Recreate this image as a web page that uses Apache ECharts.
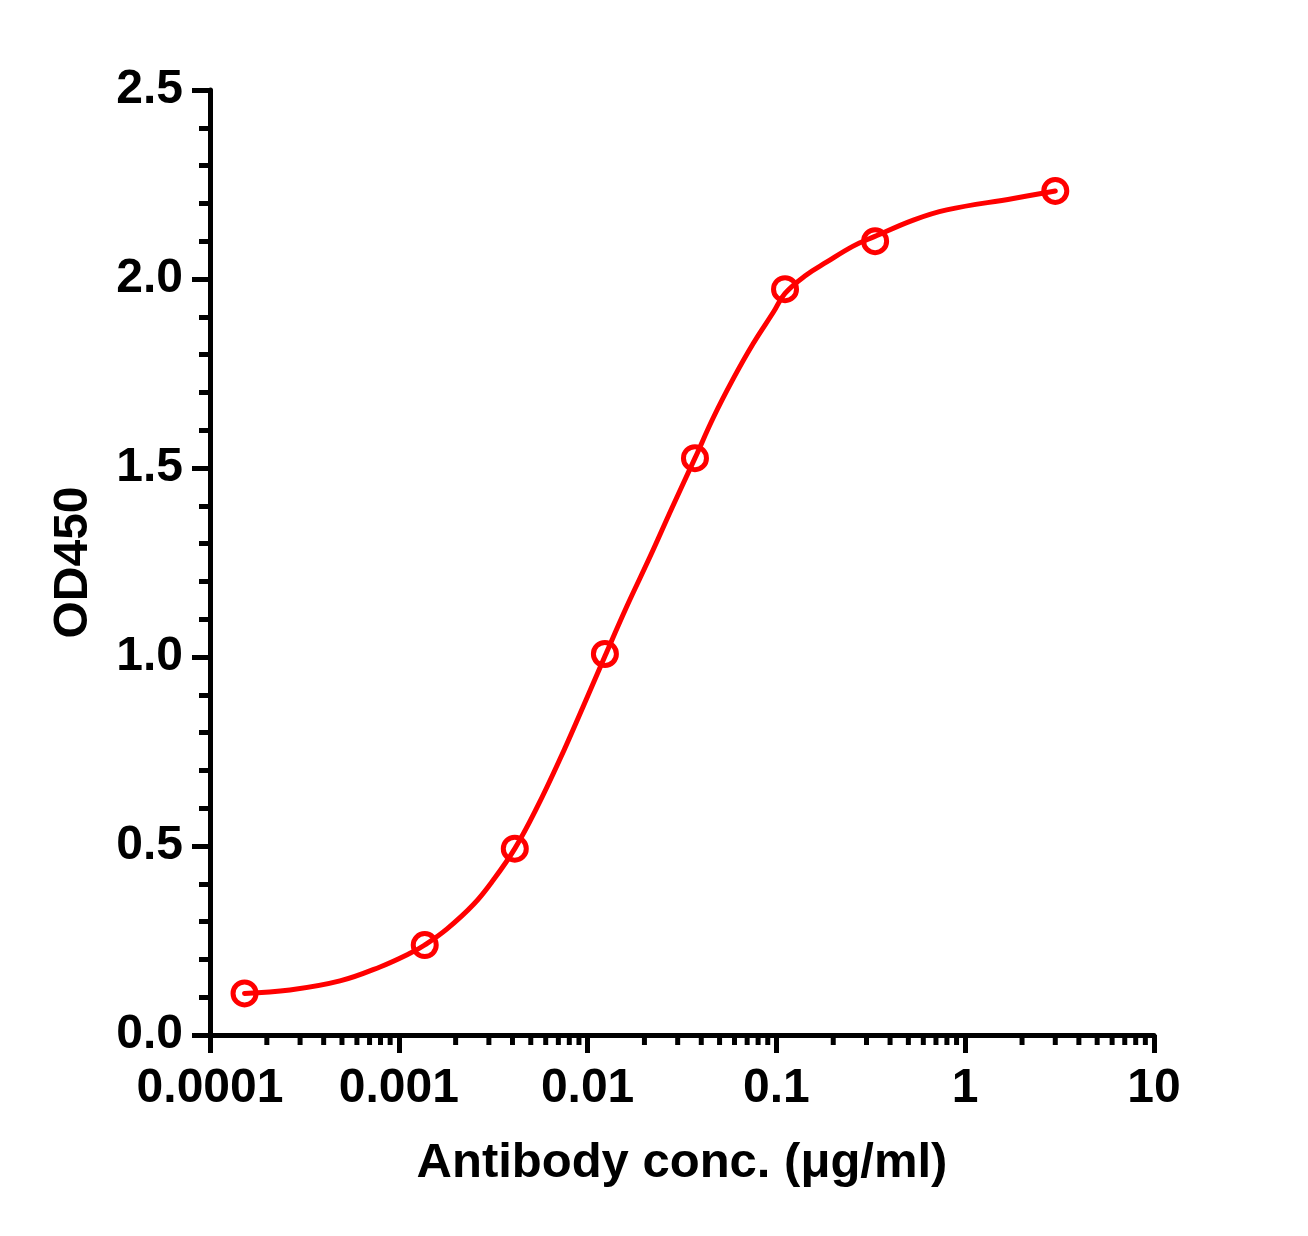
<!DOCTYPE html>
<html>
<head>
<meta charset="utf-8">
<script src="https://cdn.jsdelivr.net/npm/echarts@6/dist/echarts.min.js"></script>
<style>
  html, body { margin: 0; padding: 0; background: #fff; }
  #chart { width: 1308px; height: 1236px; }
</style>
</head>
<body>
<div id="chart"></div>
<script>
// Measured points: antibody concentration (μg/ml) and OD450
const concentrations = [0.0001524, 0.001372, 0.004115, 0.01235, 0.03704, 0.1111, 0.3333, 3.0];
const od450 = [0.110, 0.238, 0.493, 1.008, 1.526, 1.973, 2.100, 2.233];

// Fitted curve
const curveX = [0.0001524, 0.000265, 0.000488, 0.000795, 0.001146, 0.001372, 0.001795, 0.002484, 0.003166, 0.004115,
                0.00537, 0.00714, 0.00949, 0.01235, 0.0161, 0.0214, 0.0279, 0.03704, 0.0463, 0.0592,
                0.0755, 0.0963, 0.1111, 0.1434, 0.185, 0.255, 0.33, 0.531, 0.798, 1.798, 3.0];
const curveY = [0.110, 0.119, 0.143, 0.180, 0.216, 0.238, 0.280, 0.345, 0.410, 0.493,
                0.600, 0.730, 0.870, 1.002, 1.133, 1.265, 1.393, 1.526, 1.633, 1.737,
                1.830, 1.912, 1.962, 2.010, 2.045, 2.087, 2.112, 2.156, 2.183, 2.213, 2.233];

// Axis tick labels
const xTickLabels = ['0.0001', '0.001', '0.01', '0.1', '1', '10'];
const yTickLabels = ['0.0', '0.5', '1.0', '1.5', '2.0', '2.5'];
const xDecades = [0.0001, 0.001, 0.01, 0.1, 1];
const xMinorMultipliers = [2, 3, 4, 5, 6, 7, 8, 9];

const xMinorTicks = [];
xDecades.forEach(d => xMinorMultipliers.forEach(m => xMinorTicks.push([m * d, 0])));

const FONT = "'Liberation Sans', Arial, Helvetica, sans-serif";
const RED = '#ff0000';

const chart = echarts.init(document.getElementById('chart'), null, { renderer: 'canvas' });

chart.setOption({
  animation: false,
  backgroundColor: '#ffffff',
  grid: { left: 210, right: 154, top: 90, bottom: 201, containLabel: false },
  xAxis: {
    type: 'log',
    logBase: 10,
    min: 0.0001,
    max: 10,
    name: 'Antibody conc. (μg/ml)',
    nameLocation: 'middle',
    nameGap: 104,
    nameTextStyle: { fontFamily: FONT, fontWeight: 'bold', fontSize: 49, color: '#000' },
    axisLine: { show: true, onZero: false, lineStyle: { color: '#000', width: 5 } },
    axisTick: { show: true, length: 18, lineStyle: { color: '#000', width: 5 } },
    axisLabel: {
      margin: 30,
      fontFamily: FONT, fontWeight: 'bold', fontSize: 48, color: '#000',
      formatter: (v, i) => xTickLabels[i] !== undefined ? xTickLabels[i] : ''
    },
    splitLine: { show: false }
  },
  yAxis: {
    type: 'value',
    min: 0,
    max: 2.5,
    interval: 0.5,
    name: 'OD450',
    nameLocation: 'middle',
    nameGap: 112,
    nameRotate: 90,
    nameTextStyle: { fontFamily: FONT, fontWeight: 'bold', fontSize: 48, color: '#000' },
    axisLine: { show: true, onZero: false, lineStyle: { color: '#000', width: 5 } },
    axisTick: { show: true, length: 18, lineStyle: { color: '#000', width: 5 } },
    minorTick: { show: true, splitNumber: 5, length: 11, lineStyle: { color: '#000', width: 5 } },
    axisLabel: {
      margin: 27,
      fontFamily: FONT, fontWeight: 'bold', fontSize: 48, color: '#000',
      formatter: (v, i) => yTickLabels[i] !== undefined ? yTickLabels[i] : ''
    },
    splitLine: { show: false },
    minorSplitLine: { show: false }
  },
  series: [
    {
      type: 'custom',
      name: 'xMinorTicks',
      coordinateSystem: 'cartesian2d',
      clip: false,
      silent: true,
      data: xMinorTicks,
      renderItem: (params, api) => {
        const p = api.coord([api.value(0), 0]);
        return {
          type: 'line',
          shape: { x1: p[0], y1: p[1], x2: p[0], y2: p[1] + 10 },
          style: { stroke: '#000', lineWidth: 5 }
        };
      }
    },
    {
      type: 'line',
      name: 'fit',
      data: curveX.map((x, i) => [x, curveY[i]]),
      smooth: 0.4,
      showSymbol: false,
      symbol: 'none',
      lineStyle: { color: RED, width: 5, opacity: 1, join: 'round', cap: 'round' },
      z: 3
    },
    {
      type: 'scatter',
      name: 'data',
      data: concentrations.map((x, i) => [x, od450[i]]),
      symbol: 'circle',
      symbolSize: 23,
      itemStyle: { color: 'rgba(255,255,255,0)', borderColor: RED, borderWidth: 5, opacity: 1 },
      z: 4
    }
  ]
});
</script>
</body>
</html>
